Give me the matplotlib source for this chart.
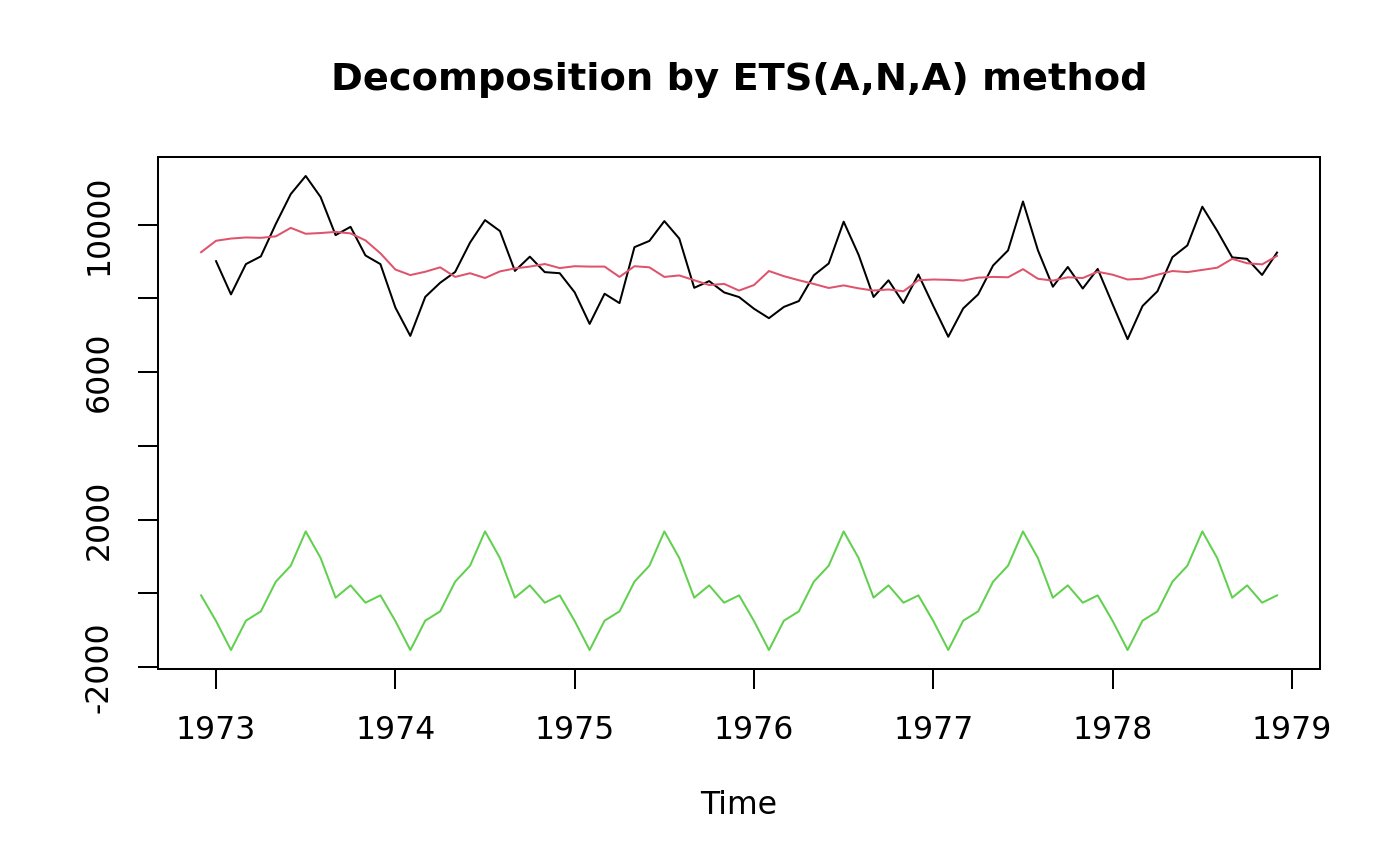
import numpy as np
import matplotlib.pyplot as plt

# monthly series, Dec 1972 .. Dec 1978 (states start one month before data)
deaths = [9007, 8106, 8928, 9137, 10017, 10826, 11317, 10744, 9713, 9938, 9161, 8927,
          7750, 6981, 8038, 8422, 8714, 9512, 10120, 9823, 8743, 9129, 8710, 8680,
          8162, 7306, 8124, 7870, 9387, 9556, 10093, 9620, 8285, 8466, 8160, 8034,
          7717, 7461, 7767, 7925, 8623, 8945, 10078, 9179, 8037, 8488, 7874, 8647,
          7792, 6957, 7726, 8106, 8890, 9299, 10625, 9302, 8314, 8850, 8265, 8796,
          7836, 6892, 7791, 8192, 9115, 9434, 10484, 9827, 9110, 9070, 8633, 9240]

level = [9250,
         9560, 9620, 9650, 9640, 9680, 9910, 9750, 9770, 9800, 9760, 9570, 9220,
         8780, 8630, 8720, 8840, 8580, 8680, 8550, 8730, 8810, 8860, 8930, 8820,
         8870, 8860, 8860, 8580, 8870, 8840, 8580, 8620, 8490, 8360, 8390, 8210,
         8360, 8740, 8600, 8490, 8390, 8280, 8350, 8270, 8210, 8240, 8190, 8490,
         8510, 8500, 8480, 8560, 8580, 8570, 8790, 8530, 8480, 8570, 8550, 8720,
         8640, 8510, 8530, 8640, 8740, 8710, 8770, 8830, 9070, 8950, 8920, 9150]

season = [-54,
          -750, -1536, -740, -488, 317, 750, 1680, 957, -117, 217, -253, -54,
          -750, -1536, -740, -488, 317, 750, 1680, 957, -117, 217, -253, -54,
          -750, -1536, -740, -488, 317, 750, 1680, 957, -117, 217, -253, -54,
          -750, -1536, -740, -488, 317, 750, 1680, 957, -117, 217, -253, -54,
          -750, -1536, -740, -488, 317, 750, 1680, 957, -117, 217, -253, -54,
          -750, -1536, -740, -488, 317, 750, 1680, 957, -117, 217, -253, -54]

yticks = [-2000, 0, 2000, 4000, 6000, 8000, 10000]
ylabels = ['-2000', '', '2000', '', '6000', '', '10000']
xticks = [1973, 1974, 1975, 1976, 1977, 1978, 1979]

t_states = 1972 + 11 / 12 + np.arange(len(level)) / 12
t_data = t_states[1:]

plt.rcParams['font.family'] = 'DejaVu Sans'
fig = plt.figure(figsize=(14, 8.66), dpi=100)
ax = fig.add_axes([0.1129, 0.2275, 0.8300, 0.5912])

lw = 1.45
ax.plot(t_data, deaths, color='black', lw=lw)
ax.plot(t_states, level, color='#DF536B', lw=lw)
ax.plot(t_states, season, color='#61D04F', lw=lw)

ax.margins(x=0.04, y=0.04)
ax.set_xticks(xticks)
ax.set_xticklabels([str(x) for x in xticks], fontsize=22.7)
ax.set_yticks(yticks)
ax.set_yticklabels(ylabels, fontsize=22.7, rotation=90, va='center')
ax.tick_params(axis='both', direction='out', length=14.4, width=lw, pad=17)
ax.tick_params(axis='x', pad=19)
for s in ax.spines.values():
    s.set_linewidth(lw)

fig.text(0.5279, 1 - 80 / 866, 'Decomposition by ETS(A,N,A) method',
         fontsize=27.6, fontweight='bold', ha='center', va='center')
fig.text(0.5279, 1 - 805 / 866, 'Time', fontsize=22.7, ha='center', va='center')

fig.savefig('out.png', dpi=100)
